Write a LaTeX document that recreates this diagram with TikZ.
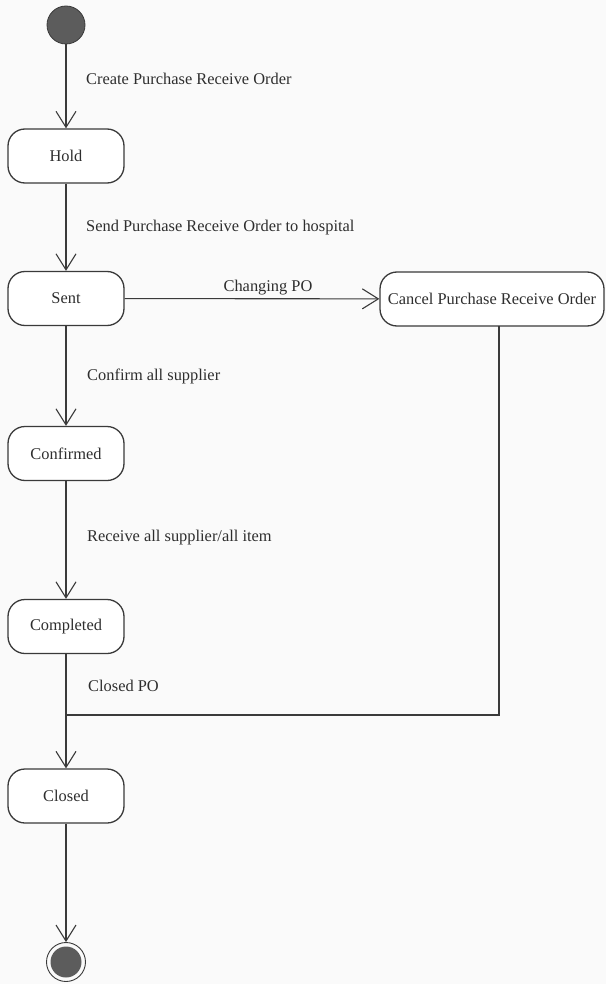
\documentclass[tikz,border=0pt]{standalone}
\usepackage{fontspec}
\setmainfont{Liberation Serif}
\usetikzlibrary{arrows.meta}
\definecolor{ink}{HTML}{3A3A3A}
\definecolor{txt}{HTML}{2E2E2E}
\definecolor{dot}{HTML}{5C5C5C}
\definecolor{paper}{HTML}{FAFAFA}
\begin{document}
\begin{tikzpicture}[x=1pt,y=-1pt,
  every node/.style={font=\fontsize{16.4}{19}\selectfont, text=txt},
  state/.style={draw=ink, line width=1.3pt, rounded corners=17pt,
    minimum width=116pt, minimum height=54pt, inner sep=0pt, fill=white},
  trans/.style={draw=ink, line width=1.1pt,
    -{Straight Barb[length=16pt,width=20pt,line width=1.1pt]}},
  plain/.style={draw=ink, line width=1.1pt},
  lbl/.style={anchor=base west, inner sep=0pt}]
  \useasboundingbox[fill=paper] (0,0) rectangle (606,984);

  % initial and final pseudo-states
  \node[circle, draw=ink, fill=dot, line width=0.8pt, minimum size=38pt, inner sep=0pt] (start) at (66,25) {};
  \node[circle, draw=ink, line width=0.9pt, minimum size=39pt, inner sep=0pt] (stop) at (66,962) {};
  \node[circle, fill=dot, minimum size=31pt, inner sep=0pt] (stopcore) at (66,962) {};

  % states
  \node[state] (hold) at (66,156) {Hold};
  \node[state] (sent) at (66,298.5) {Sent};
  \node[state] (confirmed) at (66,453.5) {Confirmed};
  \node[state] (completed) at (66,626.5) {Completed};
  \node[state] (closed) at (66,796) {Closed};
  \node[state, minimum width=224pt] (cancel) at (492,299) {Cancel Purchase Receive Order};

  \coordinate (join) at (66,715);
  \coordinate (cancelout) at (499,326);

  % transitions
  \draw[trans] (start) -- (hold);
  \draw[trans] (hold) -- (sent);
  \draw[trans] (sent) -- (confirmed);
  \draw[trans] (confirmed) -- (completed);
  \draw[trans] (completed) -- (closed);
  \draw[trans] (closed) -- (stop);
  \draw[trans] (sent) -- (cancel);
  \draw[plain] (cancelout) |- (join);

  % transition labels
  \node[lbl] (l1) at (86,85) {Create Purchase Receive Order};
  \node[lbl] (l2) at (86,232) {Send Purchase Receive Order to hospital};
  \node[anchor=base, inner sep=0pt] (l3) at (268,291) {Changing PO};
  \node[lbl] (l4) at (87,380) {Confirm all supplier};
  \node[lbl] (l5) at (87,541) {Receive all supplier/all item};
  \node[lbl] (l6) at (88,691) {Closed PO};
\end{tikzpicture}
\end{document}
